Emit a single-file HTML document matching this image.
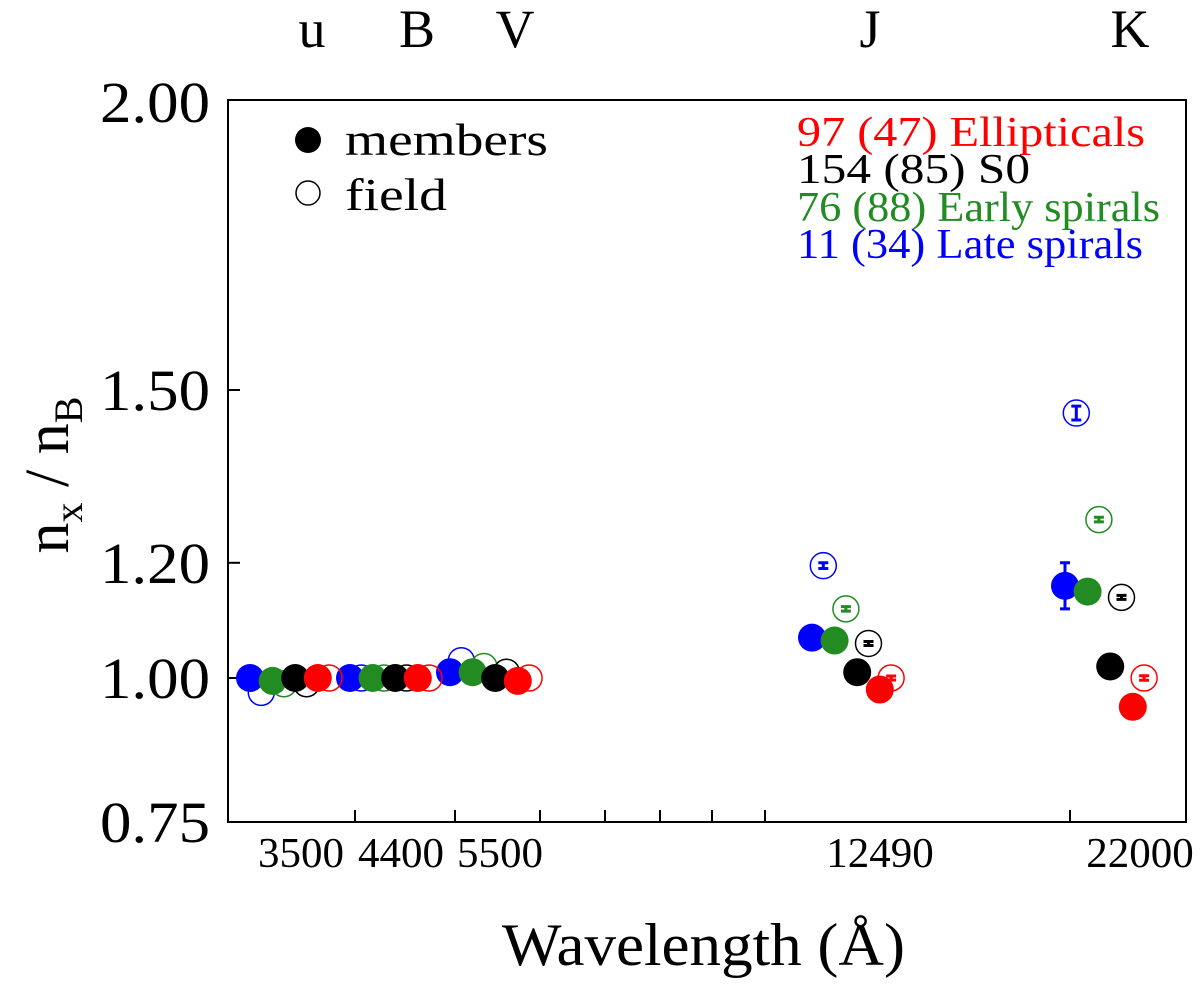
<!DOCTYPE html>
<html><head><meta charset="utf-8"><style>
body{margin:0;background:#fff;}
svg text{font-family:"Liberation Serif",serif;}
</style></head><body>
<svg id="chart" width="1200" height="992" viewBox="0 0 1200 992">
<rect x="228" y="100" width="958" height="722" fill="none" stroke="#000" stroke-width="2"/>
<g id="axes"></g><g id="marks"></g>
<text x="502" y="965" font-size="60" textLength="403" lengthAdjust="spacingAndGlyphs">Wavelength (Å)</text>
<text transform="translate(68,475) rotate(-90)" font-size="62" text-anchor="middle">n<tspan font-size="40" dy="14">x</tspan><tspan dy="-14"> / n</tspan><tspan font-size="40" dy="14">B</tspan></text>
<g>
<circle cx="308" cy="140" r="13" fill="#000"/>
<text x="345" y="155" font-size="46" textLength="203" lengthAdjust="spacingAndGlyphs">members</text>
<circle cx="308" cy="193" r="12" fill="none" stroke="#000" stroke-width="1.5"/>
<text x="345" y="210" font-size="46" textLength="102" lengthAdjust="spacingAndGlyphs">field</text>
<text x="797" y="146" font-size="42" textLength="348" lengthAdjust="spacingAndGlyphs" fill="#f00">97 (47) Ellipticals</text>
<text x="797" y="183" font-size="42" textLength="233" lengthAdjust="spacingAndGlyphs" fill="#000">154 (85) S0</text>
<text x="797" y="221" font-size="42" textLength="363" lengthAdjust="spacingAndGlyphs" fill="#228b22">76 (88) Early spirals</text>
<text x="797" y="258" font-size="42" textLength="346" lengthAdjust="spacingAndGlyphs" fill="#00f">11 (34) Late spirals</text>
</g>
</svg>
<script>
const bands=["u","B","V","J","K"];
const waves=[3500,4400,5500,12490,22000];
const series=["late-member","late-field","early-member","early-field","s0-member","s0-field","ell-member","ell-field"];
const colors=["#00f","#00f","#228b22","#228b22","#000","#000","#f00","#f00"];
const filled=[true,false,true,false,true,false,true,false];
const values=[
[1.00,1.00,1.01,1.07,1.16],
[0.975,1.00,1.03,1.195,1.46],
[0.995,1.00,1.01,1.065,1.15],
[0.99,1.00,1.02,1.12,1.275],
[1.00,1.00,1.00,1.01,1.02],
[0.99,1.00,1.01,1.06,1.14],
[1.00,1.00,0.995,0.98,0.95],
[1.00,1.00,1.00,1.00,1.00]];
const errs=[[0,0,0,0,0.04],[0,0,0,0.005,0.012],[0,0,0,0,0],[0,0,0,0.004,0.004],[0,0,0,0,0],[0,0,0,0.003,0.003],[0,0,0,0,0],[0,0,0,0.003,0.004]];
const yTicks=[0.75,1.00,1.20,1.50,2.00];
const xTickLabels=[3500,4400,5500,12490,22000];
const NS="http://www.w3.org/2000/svg";
const ax=document.getElementById('axes'),mk=document.getElementById('marks');
function y(v){return 678-(v-1)*576;}
const kw=[3000,3500,4400,5500,12490,22000,24000],kp=[200,301,401,500,880,1140,1200];
function xw(w){for(let i=0;i<kw.length-1;i++){if(w<=kw[i+1]){return kp[i]+(w-kw[i])/(kw[i+1]-kw[i])*(kp[i+1]-kp[i]);}}return kp[kp.length-1];}
const bandBase=[250,350,450,812,1065];
function el(t,a,p){const e=document.createElementNS(NS,t);for(const k in a)e.setAttribute(k,a[k]);p.appendChild(e);return e;}
yTicks.forEach(v=>{
 const t=el('text',{x:100,y:y(v)+20,'font-size':58,textLength:110,lengthAdjust:'spacingAndGlyphs'},ax);t.textContent=v.toFixed(2);
 
 
 if(v>0.75&&v<2){const l=el('line',{x1:228,x2:240,y1:y(v),y2:y(v),stroke:'#000','stroke-width':2},ax);
 
 }
});
[355,455,540,605,660,712,765,1070].forEach(px=>{
 const l=el('line',{x1:px,x2:px,y1:822,y2:810,stroke:'#000','stroke-width':2},ax);
 
 
});
xTickLabels.forEach(w=>{
 const len=String(w).length*21.5;
 const t=el('text',{x:xw(w)-len/2,y:867,'font-size':42,textLength:len,lengthAdjust:'spacingAndGlyphs'},ax);t.textContent=w;
 
 
});
const bandLabelX=[312,417,515,870,1130];
bands.forEach((b,i)=>{
 const t=el('text',{x:bandLabelX[i],y:47,'font-size':54,'text-anchor':'middle'},ax);t.textContent=b;
 
 
});
series.forEach((s,si)=>{
 waves.forEach((w,bi)=>{
  const cx=bandBase[bi]+si*11.3, cy=y(values[si][bi]);
  const c=el('circle',{cx:cx,cy:cy,r:filled[si]?14:13,fill:filled[si]?colors[si]:'none',stroke:colors[si],'stroke-width':filled[si]?0:1.5},mk);
  
  
  const e=errs[si][bi];
  if(e>0){const h=Math.max(2,e*576);
   const g=el('path',{d:`M${cx} ${cy-h}V${cy+h}M${cx-5} ${cy-h}H${cx+5}M${cx-5} ${cy+h}H${cx+5}`,stroke:colors[si],'stroke-width':3,fill:'none'},mk);
   
   }
 });
});
</script>
</body></html>
